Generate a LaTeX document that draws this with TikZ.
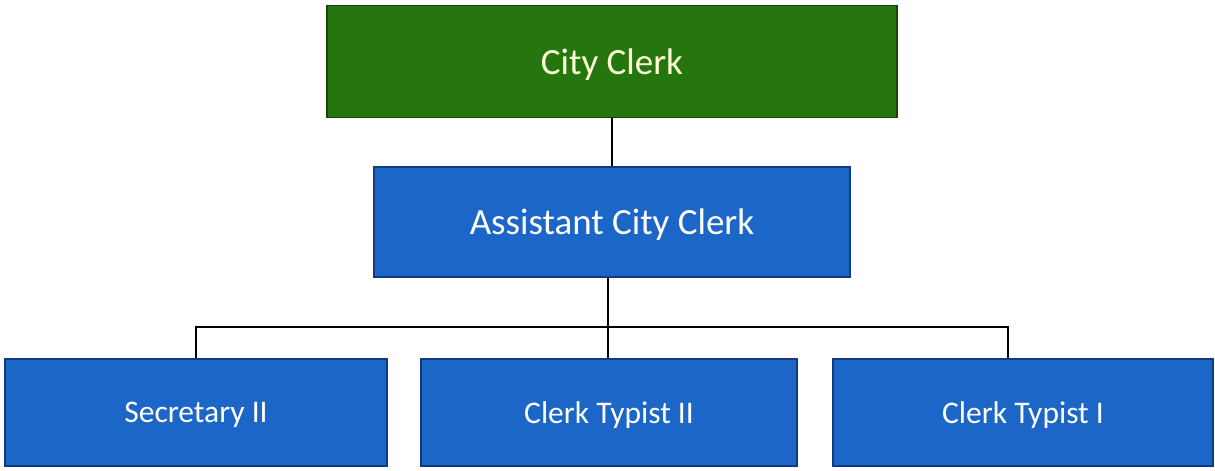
\documentclass[tikz,border=0pt]{standalone}
\usepackage{fontspec}
\setmainfont{Carlito}
\usetikzlibrary{shapes,positioning,fit,calc}

\definecolor{clerkgreen}{RGB}{38,118,16}
\definecolor{clerkgreenedge}{RGB}{22,70,10}
\definecolor{staffblue}{RGB}{27,102,198}
\definecolor{staffblueedge}{RGB}{16,58,130}
\definecolor{palewhite}{RGB}{255,255,215}

\tikzset{
    headbox/.style={draw=clerkgreenedge, fill=clerkgreen, line width=1.2pt,
        inner sep=0pt, text depth=0pt, text=palewhite, font=\fontsize{37}{40}\selectfont},
    staffbox/.style={draw=staffblueedge, fill=staffblue, line width=1.2pt,
        inner sep=0pt, text depth=0pt, text=white, font=\fontsize{37}{40}\selectfont},
    lowbox/.style={staffbox, font=\fontsize{31.5}{36}\selectfont,
        minimum width=380pt, minimum height=107pt},
    wire/.style={black, line width=1.6pt}
}

\begin{document}
\begin{tikzpicture}[x=1pt, y=-1pt]
        % Page frame, same proportions as the chart
        \useasboundingbox (0, 0) rectangle (1215, 471);
        \fill[white] (0, 0) rectangle (1215, 471);

        % Upper levels
        \node[headbox, minimum width=570pt, minimum height=112pt] (clerk) at (612, 61.5) {City Clerk};
        \node[staffbox, minimum width=476pt, minimum height=110pt] (assistant) at (612, 222) {Assistant City Clerk};

        % Lower level
        \node[lowbox, minimum width=382pt] (secretary) at (196, 412.5) {Secretary II};
        \node[lowbox, minimum width=376pt] (typisttwo) at (609, 412.5) {Clerk Typist II};
        \node[lowbox] (typistone) at (1023, 412.5) {Clerk Typist I};

        % Bus line and drop points
        \coordinate (bus) at (608, 327);
        \coordinate (dropone) at (1008, 327);

        \begin{scope}[wire]
            \draw (clerk) -- (assistant);
            \draw (assistant.south -| bus) -- (bus);
            \draw (secretary.north) |- (dropone) -- (dropone |- typistone.north);
            \draw (bus) -- (typisttwo.north -| bus);
        \end{scope}
\end{tikzpicture}
\end{document}
